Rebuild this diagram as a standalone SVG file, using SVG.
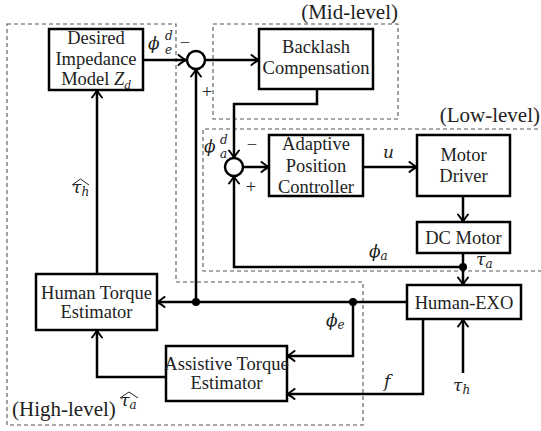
<svg xmlns="http://www.w3.org/2000/svg" width="541" height="431" viewBox="0 0 541 431">
<style>
.box{fill:#fff;stroke:#000;stroke-width:2.5}
.sum{fill:#fff;stroke:#000;stroke-width:2.5}
.w{fill:none;stroke:#000;stroke-width:2.5;stroke-linejoin:miter}
.a{marker-end:url(#ah)}
.reg{fill:none;stroke:#555;stroke-width:1.1;stroke-dasharray:4 3}
text{font-family:"Liberation Serif","DejaVu Serif",serif;font-size:18.5px;fill:#222}
.c{text-anchor:middle}
.m{font-family:"DejaVu Serif","Liberation Serif",serif;font-style:italic;font-size:17px}
.s{font-size:12px}
.lab{font-size:21px}
.hat{fill:none;stroke:#222;stroke-width:1}
</style>
<defs>
<marker id="ah" viewBox="-9 -6 12 12" markerWidth="12" markerHeight="12" refX="0" refY="0" orient="auto" markerUnits="userSpaceOnUse">
<path d="M-7.5,-5 Q-2.5,-1 0,0 Q-2.5,1 -7.5,5" fill="none" stroke="#000" stroke-width="2" stroke-linecap="round"/>
</marker>
</defs>

<g id="regions">
<path class="reg" d="M7,24 H176 V282 H363 V425 H7 Z"/>
<rect class="reg" x="213" y="24" width="185" height="95"/>
<path class="reg" d="M545,129 H203 V271 H545"/>
<text class="lab" x="398" y="19" text-anchor="end">(Mid-level)</text>
<text class="lab" x="540" y="122" text-anchor="end">(Low-level)</text>
<text class="lab" x="12" y="416">(High-level)</text>
</g>

<g id="connectors">
<path class="w a" d="M143,60 H186"/>
<path class="w a" d="M205,60 H259"/>
<path class="w a" d="M317,89 V104 H234 V158"/>
<path class="w a" d="M243,167 H269"/>
<path class="w a" d="M363,167 H417"/>
<path class="w a" d="M463,196 V222"/>
<path class="w a" d="M463,253 V285"/>
<path class="w a" d="M463,267 H234 V176"/>
<path class="w a" d="M407,302 H157"/>
<path class="w a" d="M196,302 V69"/>
<path class="w a" d="M353,302 V356 H287"/>
<path class="w a" d="M423,319 V394 H287"/>
<path class="w a" d="M463,373 V319"/>
<path class="w a" d="M97,274 V90"/>
<path class="w a" d="M166,377 H97 V330"/>
<circle cx="463" cy="267" r="4"/>
<circle cx="196" cy="302" r="4"/>
<circle cx="353" cy="302" r="4"/>
</g>

<g id="sum1">
<circle class="sum" cx="196" cy="60" r="9"/>
<text x="185" y="49" class="c">−</text>
<text x="207" y="98" class="c">+</text>
</g>
<g id="sum2">
<circle class="sum" cx="234" cy="167" r="9"/>
<text x="252" y="151" class="c">−</text>
<text x="251" y="193" class="c">+</text>
</g>

<g id="desired">
<rect class="box" x="49" y="29" width="94" height="61"/>
<text class="c" x="96" y="44">Desired</text>
<text class="c" x="96" y="65">Impedance</text>
<text class="c" x="96" y="85">Model <tspan font-style="italic">Z</tspan><tspan font-style="italic" font-size="13" dy="4">d</tspan></text>
</g>
<g id="backlash">
<rect class="box" x="259" y="29" width="114" height="60"/>
<text class="c" x="316" y="53">Backlash</text>
<text class="c" x="316" y="74">Compensation</text>
</g>
<g id="apc">
<rect class="box" x="269" y="135" width="94" height="61"/>
<text class="c" x="316" y="150">Adaptive</text>
<text class="c" x="316" y="172">Position</text>
<text class="c" x="316" y="193">Controller</text>
</g>
<g id="driver">
<rect class="box" x="417" y="135" width="93" height="61"/>
<text class="c" x="463.5" y="161">Motor</text>
<text class="c" x="463.5" y="182">Driver</text>
</g>
<g id="dcmotor">
<rect class="box" x="417" y="222" width="93" height="31"/>
<text class="c" x="463.5" y="244">DC Motor</text>
</g>
<g id="humanexo">
<rect class="box" x="407" y="285" width="114" height="34"/>
<text class="c" x="464" y="309">Human-EXO</text>
</g>
<g id="hte">
<rect class="box" x="36" y="274" width="121" height="56"/>
<text class="c" x="96.5" y="299">Human Torque</text>
<text class="c" x="96.5" y="318">Estimator</text>
</g>
<g id="ate">
<rect class="box" x="166" y="346" width="121" height="55"/>
<text class="c" x="226.5" y="370">Assistive Torque</text>
<text class="c" x="226.5" y="389">Estimator</text>
</g>

<g id="labels">
<text class="m" x="148" y="49">ϕ</text>
<text class="m s" x="165" y="40">d</text>
<text class="m s" x="165" y="54">e</text>
<text class="m" x="204" y="152">ϕ</text>
<text class="m s" x="220" y="144">d</text>
<text class="m s" x="220" y="158">a</text>
<text class="m" x="383" y="158">u</text>
<text class="m" x="369" y="257">ϕ<tspan class="s" dy="3">a</tspan></text>
<text class="m" x="476" y="265">τ<tspan class="s" dy="3">a</tspan></text>
<text class="m" x="326" y="326">ϕ<tspan class="s" dy="3">e</tspan></text>
<text class="m" x="384" y="387">f</text>
<text class="m" x="453" y="391">τ<tspan class="s" dy="3">h</tspan></text>
<text class="m" x="72" y="193">τ<tspan class="s" dy="3">h</tspan></text>
<path class="hat" d="M72,185 L80.5,179 L89,185"/>
<text class="m" x="120" y="406">τ<tspan class="s" dy="3">a</tspan></text>
<path class="hat" d="M120,398 L129,392 L138,398"/>
</g>
</svg>
